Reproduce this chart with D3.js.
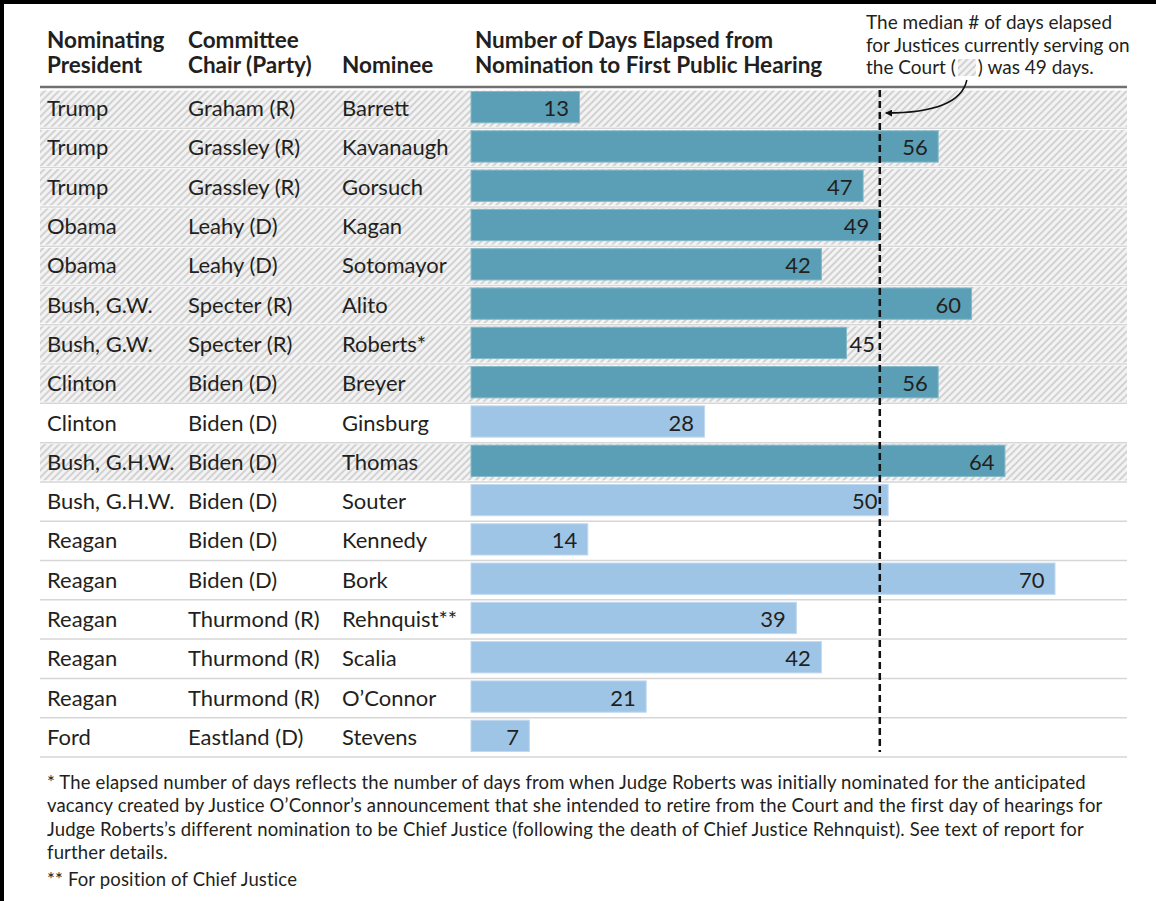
<!DOCTYPE html>
<html>
<head>
<meta charset="utf-8">
<script src="https://cdn.jsdelivr.net/npm/d3@7"></script>
<style>
  body { margin: 0; background: #fff; }
  svg text { font-family: Lato, "Open Sans", sans-serif; fill: #231f20; }
</style>
</head>
<body>
<div id="chart"></div>
<script>
// Table data
const presidents = ["Trump", "Trump", "Trump", "Obama", "Obama", "Bush, G.W.", "Bush, G.W.", "Clinton", "Clinton",
    "Bush, G.H.W.", "Bush, G.H.W.", "Reagan", "Reagan", "Reagan", "Reagan", "Reagan", "Ford"];
const chairs = ["Graham (R)", "Grassley (R)", "Grassley (R)", "Leahy (D)", "Leahy (D)", "Specter (R)", "Specter (R)",
    "Biden (D)", "Biden (D)", "Biden (D)", "Biden (D)", "Biden (D)", "Biden (D)", "Thurmond (R)", "Thurmond (R)",
    "Thurmond (R)", "Eastland (D)"];
const nominees = ["Barrett", "Kavanaugh", "Gorsuch", "Kagan", "Sotomayor", "Alito", "Roberts*", "Breyer", "Ginsburg",
    "Thomas", "Souter", "Kennedy", "Bork", "Rehnquist**", "Scalia", "O’Connor", "Stevens"];
const days = [13, 56, 47, 49, 42, 60, 45, 56, 28, 64, 50, 14, 70, 39, 42, 21, 7];
// currently serving justices (hatched rows)
const serving = [true, true, true, true, true, true, true, true, false, true, false, false, false, false, false, false, false];
const medianDays = 49;
const labelOutside = ["Roberts*"];

const headers = [
    ["Nominating", "President"],
    ["Committee", "Chair (Party)"],
    ["", "Nominee"],
    ["Number of Days Elapsed from", "Nomination to First Public Hearing"]
];
const noteLines = [
    "The median # of days elapsed",
    "for Justices currently serving on"
];
const footnotes = [
    "* The elapsed number of days reflects the number of days from when Judge Roberts was initially nominated for the anticipated",
    "vacancy created by Justice O’Connor’s announcement that she intended to retire from the Court and the first day of hearings for",
    "Judge Roberts’s different nomination to be Chief Justice (following the death of Chief Justice Rehnquist). See text of report for",
    "further details.",
    "** For position of Chief Justice"
];

const width = 1156, height = 901;
const rows = nominees.map((n, i) => ({
    president: presidents[i], chair: chairs[i], nominee: n, days: days[i], serving: serving[i]
}));

const svg = d3.select("#chart")
    .append("svg")
    .attr("width", width)
    .attr("height", height);

// hatch pattern
const defs = svg.append("defs");
const pat = defs.append("pattern")
    .attr("id", "hatch")
    .attr("patternUnits", "userSpaceOnUse")
    .attr("width", 5)
    .attr("height", 5)
    .attr("patternTransform", "rotate(45)");
pat.append("rect").attr("width", 5).attr("height", 5).attr("fill", "#f3f3f3");
pat.append("line").attr("x1", 1).attr("x2", 1).attr("y1", 0).attr("y2", 5)
    .attr("stroke", "#d2d2d2").attr("stroke-width", 2);

// frame (top and left)
svg.append("rect").attr("x", 0).attr("y", 0).attr("width", width).attr("height", 4).attr("fill", "#000");
svg.append("rect").attr("x", 0).attr("y", 0).attr("width", 4).attr("height", height).attr("fill", "#000");

const tableLeft = 40, tableRight = 1127;
const colX = [47, 188, 342, 475];

const y = d3.scaleBand()
    .domain(d3.range(rows.length))
    .range([89, 757])
    .paddingInner(0);

const x = d3.scaleLinear()
    .domain([0, 70])
    .range([471, 1055]);

// row backgrounds
svg.append("g")
    .selectAll("rect")
    .data(rows.filter(d => d.serving).map(d => rows.indexOf(d)))
    .join("rect")
    .attr("x", tableLeft)
    .attr("y", i => y(i) + 1.5)
    .attr("width", tableRight - tableLeft)
    .attr("height", y.bandwidth() - 3)
    .attr("fill", "url(#hatch)");

// row separators
svg.append("g")
    .selectAll("line")
    .data(d3.range(1, rows.length + 1))
    .join("line")
    .attr("x1", tableLeft)
    .attr("x2", tableRight)
    .attr("y1", i => y(0) + i * y.bandwidth())
    .attr("y2", i => y(0) + i * y.bandwidth())
    .attr("stroke", "#d6d6d6")
    .attr("stroke-width", 1.5);

// header rule
svg.append("line")
    .attr("x1", tableLeft).attr("x2", tableRight)
    .attr("y1", 87).attr("y2", 87)
    .attr("stroke", "#707070")
    .attr("stroke-width", 2.5);

// headers
headers.forEach((lines, c) => {
    lines.forEach((t, k) => {
        svg.append("text")
            .attr("x", colX[c])
            .attr("y", 48 + k * 24.5)
            .attr("font-size", 22.5)
            .attr("font-weight", 700)
            .text(t);
    });
});

// text columns
const textCols = [d => d.president, d => d.chair, d => d.nominee];
textCols.forEach((fn, c) => {
    svg.append("g")
        .selectAll("text")
        .data(rows)
        .join("text")
        .attr("x", colX[c])
        .attr("y", (d, i) => y(i) + y.bandwidth() / 2 + 7.5)
        .attr("font-size", 22)
        .text(fn);
});

// bars
svg.append("g")
    .selectAll("rect")
    .data(rows)
    .join("rect")
    .attr("x", x(0))
    .attr("y", (d, i) => y(i) + 2.5)
    .attr("width", d => x(d.days) - x(0))
    .attr("height", y.bandwidth() - 8)
    .attr("fill", d => d.serving ? "#5a9fb5" : "#9fc5e6")
    .attr("stroke", d => d.serving ? "#86b9c9" : "#c0d9f0")
    .attr("stroke-width", 1);

// value labels
svg.append("g")
    .selectAll("text")
    .data(rows)
    .join("text")
    .attr("x", d => labelOutside.includes(d.nominee) ? x(d.days) + 3 : x(d.days) - 10.5)
    .attr("y", (d, i) => y(i) + y.bandwidth() / 2 + 7.5)
    .attr("text-anchor", d => labelOutside.includes(d.nominee) ? "start" : "end")
    .attr("font-size", 22)
    .text(d => d.days);

// median line
svg.append("line")
    .attr("x1", x(medianDays)).attr("x2", x(medianDays))
    .attr("y1", 90).attr("y2", 752)
    .attr("stroke", "#111")
    .attr("stroke-width", 2.5)
    .attr("stroke-dasharray", "7,4");

// annotation
const noteX = 866;
noteLines.forEach((t, k) => {
    svg.append("text")
        .attr("x", noteX)
        .attr("y", 29 + k * 22.5)
        .attr("font-size", 19)
        .text(t);
});
const part1 = svg.append("text")
    .attr("x", noteX)
    .attr("y", 74)
    .attr("font-size", 19)
    .text("the Court (");
const w1 = part1.node().getComputedTextLength();
svg.append("rect")
    .attr("x", noteX + w1 + 2)
    .attr("y", 59)
    .attr("width", 18)
    .attr("height", 17)
    .attr("fill", "url(#hatch)");
svg.append("text")
    .attr("x", noteX + w1 + 22)
    .attr("y", 74)
    .attr("font-size", 19)
    .text(") was 49 days.");

// arrow
defs.append("marker")
    .attr("id", "arrow")
    .attr("viewBox", "0 0 10 10")
    .attr("refX", 9)
    .attr("refY", 5)
    .attr("markerWidth", 7)
    .attr("markerHeight", 7)
    .attr("markerUnits", "userSpaceOnUse")
    .attr("orient", "auto")
    .append("path")
    .attr("d", "M0,0 L10,5 L0,10 z")
    .attr("fill", "#111");
const arrowPath = d3.path();
arrowPath.moveTo(noteX + w1 + 11, 80);
arrowPath.quadraticCurveTo(noteX + w1 + 4, 113, x(medianDays) + 6, 113);
svg.append("path")
    .attr("d", arrowPath.toString())
    .attr("fill", "none")
    .attr("stroke", "#111")
    .attr("stroke-width", 1.5)
    .attr("marker-end", "url(#arrow)");

// footnotes
footnotes.forEach((t, k) => {
    svg.append("text")
        .attr("x", 47)
        .attr("y", 789 + k * 23.3 + (k === 4 ? 3.5 : 0))
        .attr("font-size", 18.5)
        .attr("letter-spacing", 0.15)
        .text(t);
});
</script>
</body>
</html>
